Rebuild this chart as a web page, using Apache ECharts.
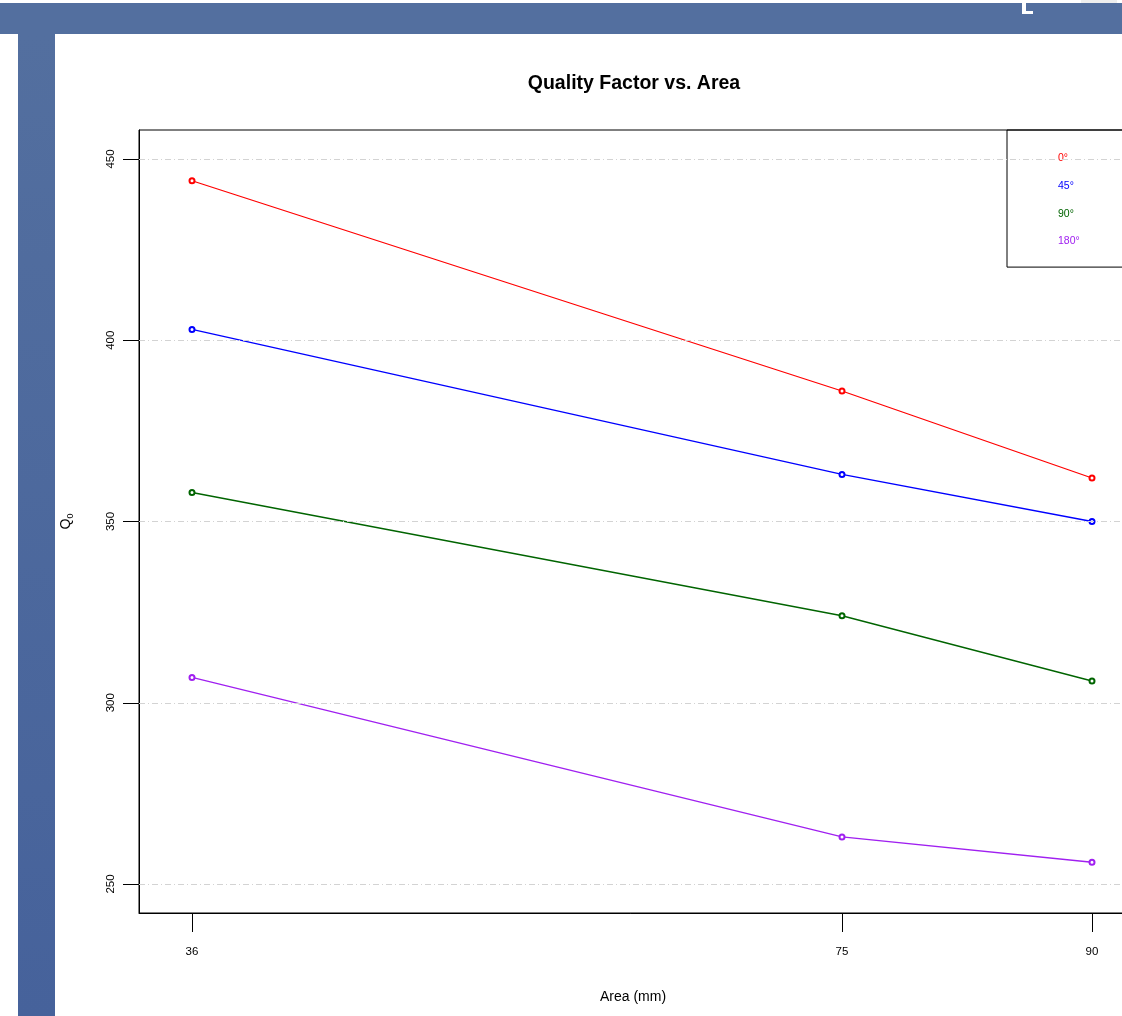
<!DOCTYPE html>
<html>
<head>
<meta charset="utf-8">
<script src="https://cdn.jsdelivr.net/npm/echarts@6/dist/echarts.min.js"></script>
<style>
  html, body { margin: 0; padding: 0; background: #fff; }
  #main { width: 1122px; height: 1016px; }
</style>
</head>
<body>
<div id="main"></div>
<script>
// 面积（横轴）
const areas = [36, 75, 90]
// 各角度下的品质因数
const angleNames = ['0°', '45°', '90°', '180°']
const q0deg = [444, 386, 362]
const q45deg = [403, 363, 350]
const q90deg = [358, 324, 306]
const q180deg = [307, 263, 256]
const lineColors = ['#ff0000', '#0000ff', '#006400', '#a020f0']
// 刻度
const yTicks = [250, 300, 350, 400, 450]
const xTicks = [36, 75, 90]

const allValues = [q0deg, q45deg, q90deg, q180deg]
const font = 'Liberation Sans, Arial, Helvetica, sans-serif'

// 折线
const series = angleNames.map((name, i) => ({
  name,
  type: 'line',
  z: 3,
  data: areas.map((a, j) => [a, allValues[i][j]]),
  symbol: 'emptyCircle',
  symbolSize: 5,
  lineStyle: { color: lineColors[i], width: 1.3 },
  itemStyle: { color: lineColors[i], borderWidth: 1 },
}))

// 水平网格线（点划线）
series.unshift({
  name: 'grid',
  type: 'line',
  z: 1,
  data: [],
  silent: true,
  markLine: {
    silent: true,
    symbol: 'none',
    animation: false,
    label: { show: false },
    lineStyle: { color: '#d3d3d3', type: [6, 3, 1, 3], width: 1 },
    data: yTicks.map(v => ({ yAxis: v })),
  },
})

const option = {
  animation: false,
  backgroundColor: '#fff',
  textStyle: { fontFamily: font },
  // 页面边框装饰
  graphic: [
    { type: 'rect', z: -10, shape: { x: 0, y: 3, width: 1122, height: 31 }, style: { fill: '#536f9f' } },
    {
      type: 'rect', z: -10, shape: { x: 18, y: 34, width: 37, height: 982 },
      style: {
        fill: new echarts.graphic.LinearGradient(0, 0, 0, 1, [
          { offset: 0, color: '#536f9f' },
          { offset: 1, color: '#46629b' },
        ]),
      },
    },
    { type: 'rect', z: -9, shape: { x: 1022, y: 0, width: 4, height: 14 }, style: { fill: '#fff' } },
    { type: 'rect', z: -9, shape: { x: 1022, y: 11, width: 11, height: 3 }, style: { fill: '#fff' } },
    { type: 'rect', z: -9, shape: { x: 1055, y: 0, width: 4, height: 2 }, style: { fill: '#fff' } },
    { type: 'rect', z: -9, shape: { x: 1081, y: 0, width: 36, height: 3 }, style: { fill: '#eee' } },
  ],
  title: {
    text: 'Quality Factor vs. Area',
    left: 629,
    top: 69,
    textAlign: 'center',
    textStyle: { fontFamily: font, fontWeight: 'bold', fontSize: 19.5, color: '#000' },
  },
  legend: {
    orient: 'vertical',
    left: 1007,
    top: 130,
    icon: 'none',
    itemWidth: 0,
    itemHeight: 10,
    itemGap: 16.7,
    padding: [23, 60, 20, 46],
    borderColor: '#000',
    borderWidth: 1,
    selectedMode: false,
    data: angleNames.map((n, i) => ({ name: n, textStyle: { color: lineColors[i] } })),
    textStyle: { fontFamily: font, fontSize: 10.5 },
  },
  grid: {
    left: 139,
    top: 130,
    right: -5,
    bottom: 103,
    outerBoundsMode: 'none',
    show: true,
    borderColor: '#000',
    borderWidth: 1,
    backgroundColor: 'transparent',
  },
  xAxis: {
    type: 'value',
    min: 32.82,
    max: 92.1,
    name: 'Area (mm)',
    nameLocation: 'middle',
    nameGap: 77,
    nameTextStyle: { fontFamily: font, fontSize: 14, color: '#000' },
    axisLine: { show: true, onZero: false, lineStyle: { color: '#000' } },
    axisTick: { show: true, length: 19, customValues: xTicks, lineStyle: { color: '#000' } },
    axisLabel: { customValues: xTicks, margin: 33, fontSize: 11.5, color: '#000', fontFamily: font },
    splitLine: { show: false },
  },
  yAxis: {
    type: 'value',
    min: 242,
    max: 458,
    name: '{q|Q}{s|0}',
    nameLocation: 'middle',
    nameRotate: 90,
    nameGap: 64,
    nameTextStyle: {
      rich: {
        q: { fontFamily: font, fontSize: 14, color: '#000' },
        s: { fontFamily: font, fontSize: 9, color: '#000', padding: [8, 0, 0, 0] },
      },
    },
    axisLine: { show: true, onZero: false, lineStyle: { color: '#000' } },
    axisTick: { show: true, length: 16, customValues: yTicks, lineStyle: { color: '#000' } },
    axisLabel: { customValues: yTicks, rotate: 90, margin: 22, fontSize: 11.5, color: '#000', fontFamily: font },
    splitLine: { show: false },
  },
  series,
}

const chart = echarts.init(document.querySelector('#main'))
chart.setOption(option)
window.addEventListener('resize', chart.resize)
</script>
</body>
</html>
